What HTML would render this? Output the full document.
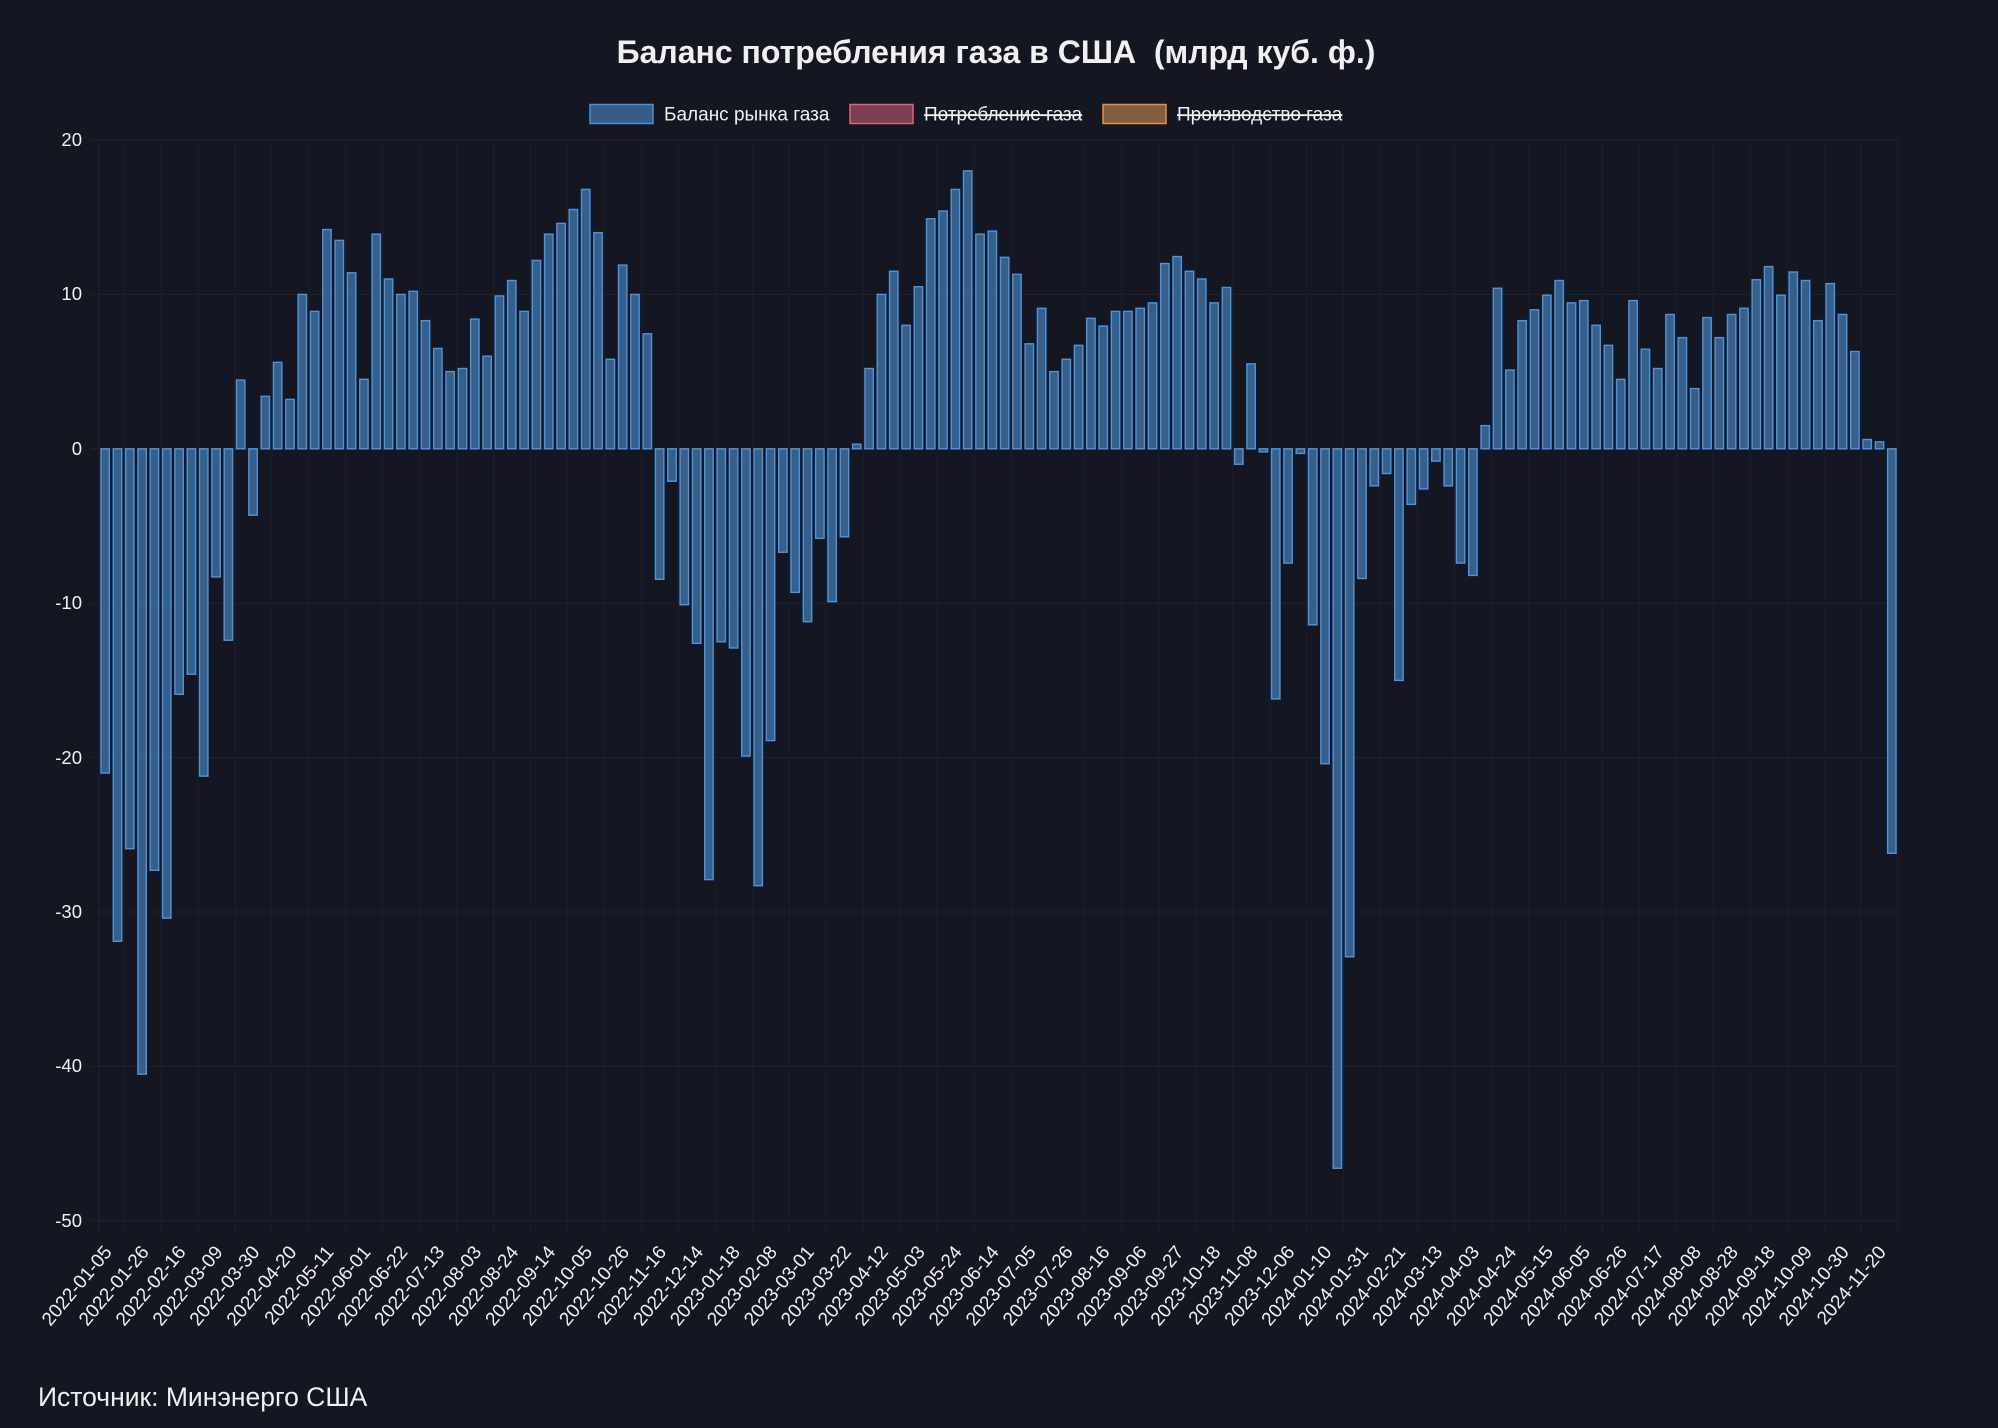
<!DOCTYPE html>
<html><head><meta charset="utf-8">
<style>
html,body{margin:0;padding:0;background:#141722;}
svg{display:block;}
text{font-family:"Liberation Sans",sans-serif;fill:#f0f0f0;}
</style></head>
<body>
<svg id="s" width="1998" height="1428" viewBox="0 0 1998 1428" xmlns="http://www.w3.org/2000/svg">
<rect width="1998" height="1428" fill="#141722"/>
<g id="grid"></g>
<g id="bars"></g>
<text x="996" y="63" text-anchor="middle" font-size="32" font-weight="bold" fill="#ffffff" xml:space="preserve">Баланс потребления газа в США  (млрд куб. ф.)</text>
<rect x="590" y="104.5" width="63" height="19" fill="#355d86" stroke="#4a8fd6" stroke-width="1.5"/>
<text x="664" y="120.5" font-size="19">Баланс рынка газа</text>
<rect x="850" y="104.5" width="63" height="19" fill="#7a4052" stroke="#e06478" stroke-width="1.5"/>
<text x="924" y="120.5" font-size="19" text-decoration="line-through">Потребление газа</text>
<rect x="1103" y="104.5" width="63" height="19" fill="#815f3e" stroke="#e8913a" stroke-width="1.5"/>
<text x="1177" y="120.5" font-size="19" text-decoration="line-through">Производство газа</text>
<g font-size="18.5" text-anchor="end">
<text x="82" y="146">20</text>
<text x="82" y="300">10</text>
<text x="82" y="455">0</text>
<text x="82" y="609">-10</text>
<text x="82" y="764">-20</text>
<text x="82" y="918">-30</text>
<text x="82" y="1072">-40</text>
<text x="82" y="1227">-50</text>
</g>
<g font-size="19" text-anchor="end" dominant-baseline="central" transform="translate(-5,0)">
<text transform="translate(113.6,1249) rotate(-50)">2022-01-05</text>
<text transform="translate(150.6,1249) rotate(-50)">2022-01-26</text>
<text transform="translate(187.5,1249) rotate(-50)">2022-02-16</text>
<text transform="translate(224.5,1249) rotate(-50)">2022-03-09</text>
<text transform="translate(261.4,1249) rotate(-50)">2022-03-30</text>
<text transform="translate(298.4,1249) rotate(-50)">2022-04-20</text>
<text transform="translate(335.4,1249) rotate(-50)">2022-05-11</text>
<text transform="translate(372.3,1249) rotate(-50)">2022-06-01</text>
<text transform="translate(409.3,1249) rotate(-50)">2022-06-22</text>
<text transform="translate(446.2,1249) rotate(-50)">2022-07-13</text>
<text transform="translate(483.2,1249) rotate(-50)">2022-08-03</text>
<text transform="translate(520.2,1249) rotate(-50)">2022-08-24</text>
<text transform="translate(557.1,1249) rotate(-50)">2022-09-14</text>
<text transform="translate(594.1,1249) rotate(-50)">2022-10-05</text>
<text transform="translate(631.0,1249) rotate(-50)">2022-10-26</text>
<text transform="translate(668.0,1249) rotate(-50)">2022-11-16</text>
<text transform="translate(705.0,1249) rotate(-50)">2022-12-14</text>
<text transform="translate(741.9,1249) rotate(-50)">2023-01-18</text>
<text transform="translate(778.9,1249) rotate(-50)">2023-02-08</text>
<text transform="translate(815.8,1249) rotate(-50)">2023-03-01</text>
<text transform="translate(852.8,1249) rotate(-50)">2023-03-22</text>
<text transform="translate(889.8,1249) rotate(-50)">2023-04-12</text>
<text transform="translate(926.7,1249) rotate(-50)">2023-05-03</text>
<text transform="translate(963.7,1249) rotate(-50)">2023-05-24</text>
<text transform="translate(1000.6,1249) rotate(-50)">2023-06-14</text>
<text transform="translate(1037.6,1249) rotate(-50)">2023-07-05</text>
<text transform="translate(1074.6,1249) rotate(-50)">2023-07-26</text>
<text transform="translate(1111.5,1249) rotate(-50)">2023-08-16</text>
<text transform="translate(1148.5,1249) rotate(-50)">2023-09-06</text>
<text transform="translate(1185.4,1249) rotate(-50)">2023-09-27</text>
<text transform="translate(1222.4,1249) rotate(-50)">2023-10-18</text>
<text transform="translate(1259.4,1249) rotate(-50)">2023-11-08</text>
<text transform="translate(1296.3,1249) rotate(-50)">2023-12-06</text>
<text transform="translate(1333.3,1249) rotate(-50)">2024-01-10</text>
<text transform="translate(1370.2,1249) rotate(-50)">2024-01-31</text>
<text transform="translate(1407.2,1249) rotate(-50)">2024-02-21</text>
<text transform="translate(1444.2,1249) rotate(-50)">2024-03-13</text>
<text transform="translate(1481.1,1249) rotate(-50)">2024-04-03</text>
<text transform="translate(1518.1,1249) rotate(-50)">2024-04-24</text>
<text transform="translate(1555.0,1249) rotate(-50)">2024-05-15</text>
<text transform="translate(1592.0,1249) rotate(-50)">2024-06-05</text>
<text transform="translate(1629.0,1249) rotate(-50)">2024-06-26</text>
<text transform="translate(1665.9,1249) rotate(-50)">2024-07-17</text>
<text transform="translate(1702.9,1249) rotate(-50)">2024-08-08</text>
<text transform="translate(1739.8,1249) rotate(-50)">2024-08-28</text>
<text transform="translate(1776.8,1249) rotate(-50)">2024-09-18</text>
<text transform="translate(1813.8,1249) rotate(-50)">2024-10-09</text>
<text transform="translate(1850.7,1249) rotate(-50)">2024-10-30</text>
<text transform="translate(1887.7,1249) rotate(-50)">2024-11-20</text>
</g>
<text x="38" y="1406" font-size="26.5">Источник: Минэнерго США</text>
</svg>
<script>
(function(){
var NS="http://www.w3.org/2000/svg";
var d=[-21.0,-31.9,-25.9,-40.5,-27.3,-30.4,-15.9,-14.6,-21.2,-8.3,-12.4,4.45,-4.3,3.4,5.6,3.2,10.0,8.9,14.2,13.5,11.4,4.5,13.9,11.0,10.0,10.2,8.3,6.5,5.0,5.2,8.4,6.0,9.9,10.9,8.9,12.2,13.9,14.6,
15.5,16.8,14.0,5.8,11.9,10.0,7.45,-8.45,-2.1,-10.1,-12.6,-27.9,-12.5,-12.9,-19.9,-28.3,-18.9,-6.7,-9.3,-11.2,-5.8,-9.9,-5.7,0.3,5.2,10.0,11.5,8.0,10.5,14.9,15.4,16.8,18.0,13.9,14.1,12.4,11.3,
6.8,9.1,5.0,5.8,6.7,8.45,7.95,8.9,8.9,9.1,9.45,12.0,12.45,11.5,11.0,9.45,10.45,-1.0,5.5,-0.2,-16.2,-7.4,-0.3,-11.4,-20.4,-46.6,-32.9,-8.4,-2.4,-1.6,-15.0,-3.6,-2.6,-0.8,-2.4,-7.4,-8.2,1.5,
10.4,5.1,8.3,9.0,9.95,10.9,9.45,9.6,8.0,6.7,4.5,9.6,6.45,5.2,8.7,7.2,3.9,8.5,7.2,8.7,9.1,10.95,11.8,9.95,11.45,10.9,8.3,10.7,8.7,6.3,0.6,0.45,-26.2];
var L=99,R=1898,T=140,B=1220,Z=448.8,U=15.44,w=(R-L)/d.length;
var g=document.getElementById('grid'),b=document.getElementById('bars');
function el(p,tag,a){var e=document.createElementNS(NS,tag);for(var k in a)e.setAttribute(k,a[k]);p.appendChild(e);return e;}
for(var v=20;v>=-50;v-=10){var y=Z-v*U;el(g,'line',{x1:L-8,x2:R,y1:y,y2:y,stroke:'#1f2330','stroke-width':1});}
el(g,'line',{x1:L,x2:L,y1:T,y2:1232,stroke:'#1f2330','stroke-width':1});
for(var k=0;k<=48;k++){var x=124+36.96*k;el(g,'line',{x1:x,x2:x,y1:T,y2:1232,stroke:'#1b1f2a','stroke-width':1});}
for(var i=0;i<d.length;i++){var c=L+(i+0.5)*w,v=d[i],y1=Z-Math.max(v,0)*U,y2=Z-Math.min(v,0)*U;
var h=Math.max(y2-y1,1.2);
el(b,'rect',{x:c-4.2,y:y1,width:8.4,height:h,fill:'#365f8a',stroke:'#4d94de','stroke-width':1.4});}
})();
</script>
</body></html>
